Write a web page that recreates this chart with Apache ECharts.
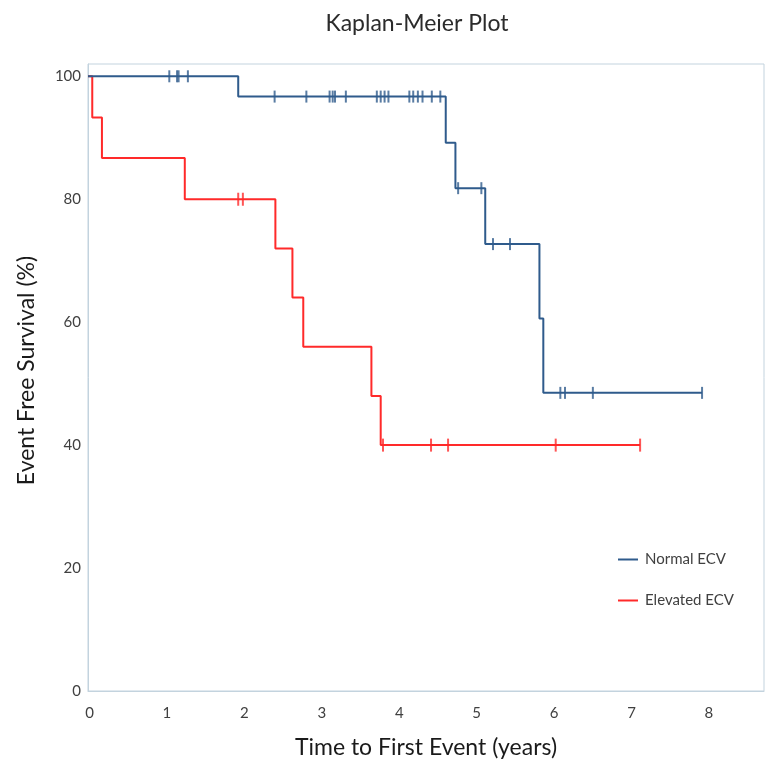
<!DOCTYPE html>
<html>
<head>
<meta charset="utf-8">
<script src="https://cdn.jsdelivr.net/npm/echarts@6/dist/echarts.min.js"></script>
<style>
  html, body { margin: 0; padding: 0; background: #ffffff; }
  #chart { width: 767px; height: 770px; }
</style>
</head>
<body>
<div id="chart"></div>
<script>
// ---- Data ----
const xTickLabels = ['0', '1', '2', '3', '4', '5', '6', '7', '8'];
const yTickLabels = ['0', '20', '40', '60', '80', '100'];

// Normal ECV: step curve (time in years, survival %)
const normalTimes = [0, 1.94, 4.62, 4.745, 5.13, 5.83, 5.88, 7.93];
const normalSurv  = [100, 96.7, 89.2, 81.8, 72.7, 60.6, 48.5, 48.5];
const normalCensor = [1.05, 1.15, 1.17, 1.29, 2.41, 2.82, 3.12, 3.16, 3.19, 3.33,
                      3.73, 3.78, 3.83, 3.88, 4.15, 4.20, 4.26, 4.32, 4.44, 4.55,
                      4.78, 5.08, 5.23, 5.45, 6.10, 6.16, 6.52, 7.93];

// Elevated ECV: step curve
const elevTimes = [0, 0.055, 0.18, 1.25, 2.42, 2.64, 2.78, 3.66, 3.78, 7.13];
const elevSurv  = [100, 93.3, 86.7, 80, 72, 64, 56, 48, 40, 40];
const elevCensor = [1.94, 2.00, 3.81, 4.43, 4.65, 6.04, 7.13];

// ---- Helpers ----
function pairs(xs, ys) { return xs.map((x, i) => [x, ys[i]]); }
function levelAt(xs, ys, t) {
  let v = ys[0];
  for (let i = 0; i < xs.length; i++) { if (xs[i] <= t) v = ys[i]; }
  return v;
}
function censorPts(cs, xs, ys) { return cs.map(t => [t, levelAt(xs, ys, t)]); }

const BLUE = '#2f5b8c';
const RED = '#ff2a2a';
const FONT = 'Lato';

const chart = echarts.init(document.getElementById('chart'), null, { renderer: 'canvas' });
chart.setOption({
  animation: false,
  backgroundColor: '#ffffff',
  title: {
    text: 'Kaplan-Meier Plot',
    left: 412, top: 7, textAlign: 'center',
    textStyle: { fontFamily: FONT, fontSize: 23, fontWeight: 'normal', color: '#2b2b2b' }
  },
  legend: {
    orient: 'vertical',
    left: 613, top: 547,
    itemWidth: 20, itemHeight: 2, itemGap: 26,
    icon: 'rect',
    data: ['Normal ECV', 'Elevated ECV'],
    textStyle: { fontFamily: FONT, fontSize: 15, color: '#404040', padding: [0, 0, 0, 2] }
  },
  grid: {
    left: 88, right: 2, top: 64, bottom: 79,
    show: true, borderColor: '#c3d3de', borderWidth: 1,
    containLabel: false
  },
  xAxis: {
    type: 'value', min: 0, max: 8.73, interval: 1,
    name: 'Time to First Event (years)', nameLocation: 'middle', nameGap: 45,
    nameTextStyle: { fontFamily: FONT, fontSize: 23, color: '#1a1a1a' },
    axisLine: { show: true, lineStyle: { color: '#c3d3de' } },
    axisTick: { show: false },
    splitLine: { show: false },
    axisLabel: {
      margin: 15, fontFamily: FONT, fontSize: 15, color: '#404040',
      padding: [0, 0, 0, 3],
      formatter: v => (Number.isInteger(v) && v >= 0 && v < xTickLabels.length) ? xTickLabels[v] : ''
    }
  },
  yAxis: {
    type: 'value', min: 0, max: 102, interval: 20,
    name: 'Event Free Survival (%)', nameLocation: 'middle', nameGap: 50,
    nameTextStyle: { fontFamily: FONT, fontSize: 23, color: '#1a1a1a', padding: [0, 0, 0, 14] },
    axisLine: { show: true, lineStyle: { color: '#c3d3de' } },
    axisTick: { show: false },
    splitLine: { show: false },
    axisLabel: {
      margin: 7, fontFamily: FONT, fontSize: 15, color: '#404040',
      formatter: v => (v % 20 === 0 && yTickLabels.indexOf(String(v)) >= 0) ? String(v) : ''
    }
  },
  series: [
    {
      name: 'Elevated ECV', type: 'line', step: 'end', showSymbol: false,
      data: pairs(elevTimes, elevSurv),
      lineStyle: { color: RED, width: 2 }, itemStyle: { color: RED }, z: 2
    },
    {
      name: 'Normal ECV', type: 'line', step: 'end', showSymbol: false,
      data: pairs(normalTimes, normalSurv),
      lineStyle: { color: BLUE, width: 2 }, itemStyle: { color: BLUE }, z: 3
    },
    {
      name: 'Elevated censored', type: 'scatter', symbol: 'rect', symbolSize: [2, 13],
      data: censorPts(elevCensor, elevTimes, elevSurv),
      itemStyle: { color: RED }, z: 4
    },
    {
      name: 'Normal censored', type: 'scatter', symbol: 'rect', symbolSize: [2, 12],
      data: censorPts(normalCensor, normalTimes, normalSurv),
      itemStyle: { color: BLUE }, z: 5
    }
  ]
});
</script>
</body>
</html>
